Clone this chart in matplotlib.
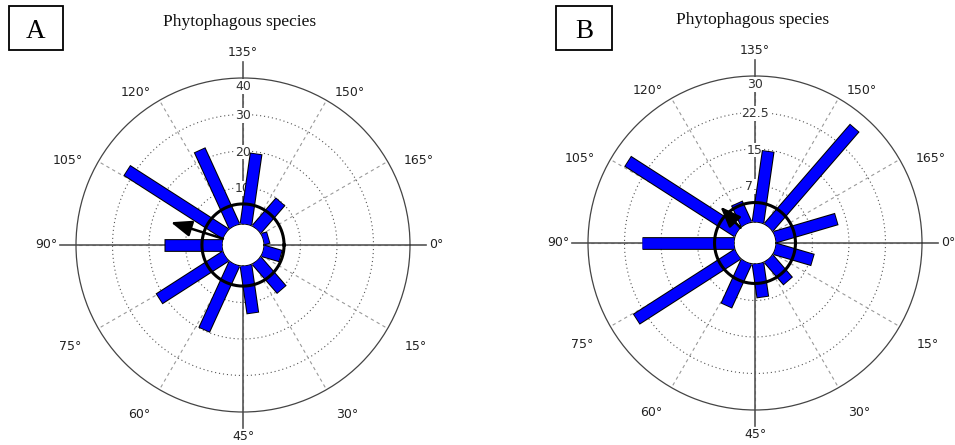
import numpy as np
import matplotlib
matplotlib.use("Agg")
import matplotlib.pyplot as plt
from matplotlib.patches import Rectangle

# ---------------- data ----------------
n_bins = 11
bin_centers = (np.arange(n_bins) + 0.5) * 180.0 / n_bins   # axial degrees

counts_A = [5.1, 10.5, 13.2, 19.9, 21.6, 16.0, 32.1, 22.9, 19.6, 10.0, 1.6]
counts_B = [8.1, 6.1, 7.0, 9.9, 24.7, 19.0, 26.8, 4.7, 14.8, 27.0, 13.2]

rticks_A = [10, 20, 30, 40]
rlabels_A = ["10", "20", "30", "40"]
rticks_B = [7.5, 15, 22.5, 30]
rlabels_B = ["7.5", "15", "22.5", "30"]

mean_dir_A, mean_len_A = 98.75, 15.0
mean_dir_B, mean_len_B = 113.2, 6.0
circle_A, circle_B = 5.5, 4.0

angle_ticks = list(range(0, 180, 15))
angle_labels = [f"{a}°" for a in angle_ticks]
panel_letters = ["A", "B"]
titles = ["Phytophagous species", "Phytophagous species"]

# ---------------- layout ----------------
W, H, DPI = 955, 445, 100
R = 167.0       # outer radius px
HOLE = 21.0     # hole radius px
EXT = 16.0      # axis line extension px

# label offsets (px from centre) for each axial tick label
lab_off = {
    0: (186, 0, "left"), 15: (173, -101, "center"), 30: (104, -170, "center"),
    45: (0, -192, "center"), 60: (-104, -170, "center"), 75: (-173, -101, "center"),
    90: (-186, 1, "right"), 105: (-175, 84, "center"), 120: (-107, 153, "center"),
    135: (0, 193, "center"), 150: (107, 153, "center"), 165: (176, 84, "center"),
}

fig = plt.figure(figsize=(W / DPI, H / DPI), dpi=DPI)
fig.patch.set_facecolor("white")

TICKFONT = "DejaVu Sans"
SERIF = "Liberation Serif"


def draw_panel(cx, cy, counts, rticks, rlabels, mdir, mlen, circ, letter, title,
               box, title_xy):
    ax = fig.add_axes([(cx - R) / W, (H - cy - R) / H, 2 * R / W, 2 * R / H],
                      projection="polar")
    rmax = rticks[-1]
    ppu = (R - HOLE) / rmax
    ax.set_theta_zero_location("E")
    ax.set_theta_direction(-1)
    ax.set_ylim(0, rmax)
    ax.set_rorigin(-HOLE / ppu)
    ax.grid(False)
    ax.set_xticks([])
    ax.set_yticks([])
    ax.spines["polar"].set_color("#444444")
    ax.spines["polar"].set_linewidth(0.9)
    if "inner" in ax.spines:
        ax.spines["inner"].set_visible(False)

    th = np.linspace(0, 2 * np.pi, 400)
    # dotted rings
    for rt in rticks[:-1]:
        ax.plot(th, np.full_like(th, rt), color="#555555", lw=0.8,
                ls=(0, (1, 2.6)), zorder=1)
    # dashed spokes
    for a in angle_ticks:
        t = np.deg2rad(2 * a)
        ax.plot([t, t], [0, rmax], color="#9a9a9a", lw=0.8, ls=(0, (3, 3)), zorder=1)
    # solid axis lines
    for a in [0, 45, 90, 135]:
        t = np.deg2rad(2 * a)
        ax.plot([t, t], [0, rmax + EXT / ppu], color="#555555", lw=1.2,
                zorder=2, clip_on=False)

    # radial labels (under the bars)
    ttop = np.deg2rad(2 * 135)
    for rt, lab in zip(rticks, rlabels):
        rr = rt - 8.5 / ppu if rt == rmax else rt - 1.0 / ppu
        ax.text(ttop, rr, lab, ha="center", va="center", fontsize=9,
                family=TICKFONT, color="#333333", zorder=3,
                bbox=dict(boxstyle="square,pad=0.05", fc="white", ec="none"))

    # bars (rectangles of constant width)
    delta = 0.9 / ppu
    for c, v in zip(bin_centers, counts):
        t = np.deg2rad(2 * c)
        ax.plot([t, t], [0, v], color="black", lw=9.2, solid_capstyle="butt",
                zorder=4)
        ax.plot([t, t], [0, v - delta], color="#0000FF", lw=7.7,
                solid_capstyle="butt", zorder=4.1)

    # black circle
    ax.plot(th, np.full_like(th, circ), color="black", lw=2.2, zorder=5)

    # mean vector arrow
    tm = np.deg2rad(2 * mdir)
    ax.annotate("", xy=(tm, mlen), xytext=(tm, 0), zorder=6,
                arrowprops=dict(arrowstyle="-|>,head_length=0.9,head_width=0.35",
                                color="black", lw=1.8, shrinkA=0, shrinkB=0,
                                mutation_scale=14))

    # angle labels
    for a, lab in zip(angle_ticks, angle_labels):
        dx, dy, ha = lab_off[a]
        ax.text(0.5 + dx / (2 * R), 0.5 + dy / (2 * R), lab, transform=ax.transAxes,
                ha=ha, va="center", fontsize=9, family=TICKFONT, color="#222222")

    # title
    fig.text(title_xy[0] / W, 1 - title_xy[1] / H, title, ha="center", va="center",
             fontsize=12.5, family=SERIF, color="#111111")
    # panel letter box
    x0, y0, x1, y1 = box
    fig.add_artist(Rectangle((x0 / W, 1 - y1 / H), (x1 - x0) / W, (y1 - y0) / H,
                             transform=fig.transFigure, fill=False, lw=1.3,
                             ec="black"))
    fig.text((x0 + x1) / 2 / W, 1 - ((y0 + y1) / 2 + 4) / H, letter, ha="center",
             va="center", fontsize=19.5, family=SERIF, color="black")
    return ax


draw_panel(243, 245, counts_A, rticks_A, rlabels_A, mean_dir_A, mean_len_A,
           circle_A, panel_letters[0], titles[0], (9, 6, 63, 50), (240, 22))
draw_panel(755, 243, counts_B, rticks_B, rlabels_B, mean_dir_B, mean_len_B,
           circle_B, panel_letters[1], titles[1], (556, 6, 612, 50), (753, 20))

fig.savefig("out.png", dpi=DPI, facecolor="white")
